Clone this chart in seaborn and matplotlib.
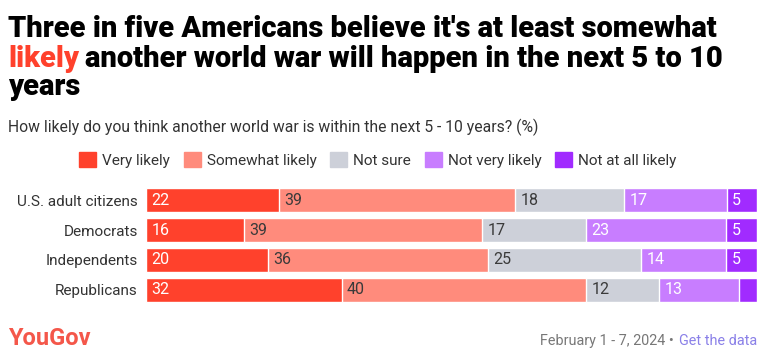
import numpy as np
import pandas as pd
import matplotlib.pyplot as plt
import seaborn as sns

groups = ['U.S. adult citizens', 'Democrats', 'Independents', 'Republicans']
answers = ['Very likely', 'Somewhat likely', 'Not sure', 'Not very likely', 'Not at all likely']
very_likely = [22, 16, 20, 32]
somewhat_likely = [39, 39, 36, 40]
not_sure = [18, 17, 25, 12]
not_very_likely = [17, 23, 14, 13]
not_at_all_likely = [5, 5, 5, 3]

kleuren = ['#ff412c', '#ff8b7c', '#cdd0d9', '#c87dff', '#a12bff']
tekstkleur = ['white', '#3a3a3a', '#3a3a3a', 'white', 'white']

data = pd.DataFrame({'groep': groups,
                     'Very likely': very_likely,
                     'Somewhat likely': somewhat_likely,
                     'Not sure': not_sure,
                     'Not very likely': not_very_likely,
                     'Not at all likely': not_at_all_likely})
totaal = data[answers].sum(axis=1)
# elke balk loopt over de volle breedte
schaal = data[answers].div(totaal, axis=0) * 100
cum = schaal.cumsum(axis=1)
cum['groep'] = data['groep']

sns.set_style('white')
plt.rcParams['font.family'] = ['Roboto', 'DejaVu Sans']

fig = plt.figure(figsize=(7.66, 3.61), dpi=100)
ax = fig.add_axes([146 / 766, 1 - 305 / 361, (757 - 146) / 766, 120 / 361])

# van achter naar voor tekenen zodat de lagen elkaar overlappen
for i in range(len(answers) - 1, -1, -1):
    sns.barplot(data=cum, x=answers[i], y='groep', color=kleuren[i], orient='h',
                width=0.8, saturation=1, ax=ax, label=answers[i])

for r in range(len(groups)):
    start = 0
    for i, a in enumerate(answers):
        w = schaal.loc[r, a]
        if data.loc[r, a] >= 4:
            ax.text(start + 0.9, r, str(data.loc[r, a]), va='center', ha='left',
                    color=tekstkleur[i], fontsize=11.5)
        start += w

ax.set_xlim(0, 100)
ax.set_ylim(3.5, -0.5)
ax.set_xlabel('')
ax.set_ylabel('')
ax.set_xticks([])
ax.tick_params(axis='y', length=0, pad=6, labelsize=11, labelcolor='#333333')
sns.despine(ax=ax, left=True, bottom=True)
if ax.get_legend():
    ax.get_legend().remove()

handles = [plt.Rectangle((0, 0), 1, 1, color=c) for c in kleuren]
fig.legend(handles, answers, loc='center', bbox_to_anchor=(378 / 766, 1 - 160 / 361),
           ncol=5, frameon=False, fontsize=11, handlelength=1.1, handleheight=1.1,
           handletextpad=0.4, columnspacing=0.9, labelcolor='#333333')

# titel
titel_kw = dict(fontsize=21, fontweight='heavy', va='baseline', ha='left')
fig.text(8 / 766, 1 - 37 / 361, "Three in five Americans believe it's at least somewhat",
         color='black', **titel_kw)
t = fig.text(8 / 766, 1 - 67 / 361, 'likely', color='#ff412c', **titel_kw)
fig.canvas.draw()
bb = t.get_window_extent()
fig.text((bb.x1 + 6) / 766, 1 - 67 / 361,
         'another world war will happen in the next 5 to 10', color='black', **titel_kw)
fig.text(8 / 766, 1 - 95 / 361, 'years', color='black', **titel_kw)

fig.text(8 / 766, 1 - 132 / 361,
         'How likely do you think another world war is within the next 5 - 10 years? (%)',
         fontsize=11.3, color='#333333', va='baseline')

fig.text(8 / 766, 1 - 345 / 361, 'YouGov', fontsize=17, fontweight='bold',
         color='#f4574a', va='baseline')
g = fig.text(757 / 766, 1 - 345 / 361, 'Get the data', fontsize=10.4, color='#8a80e8',
             ha='right', va='baseline')
fig.canvas.draw()
gb = g.get_window_extent()
fig.text((gb.x0 - 2) / 766, 1 - 345 / 361, 'February 1 - 7, 2024 \u2022 ', fontsize=10.4,
         color='#777777', ha='right', va='baseline')

plt.savefig('out.png', dpi=100)
